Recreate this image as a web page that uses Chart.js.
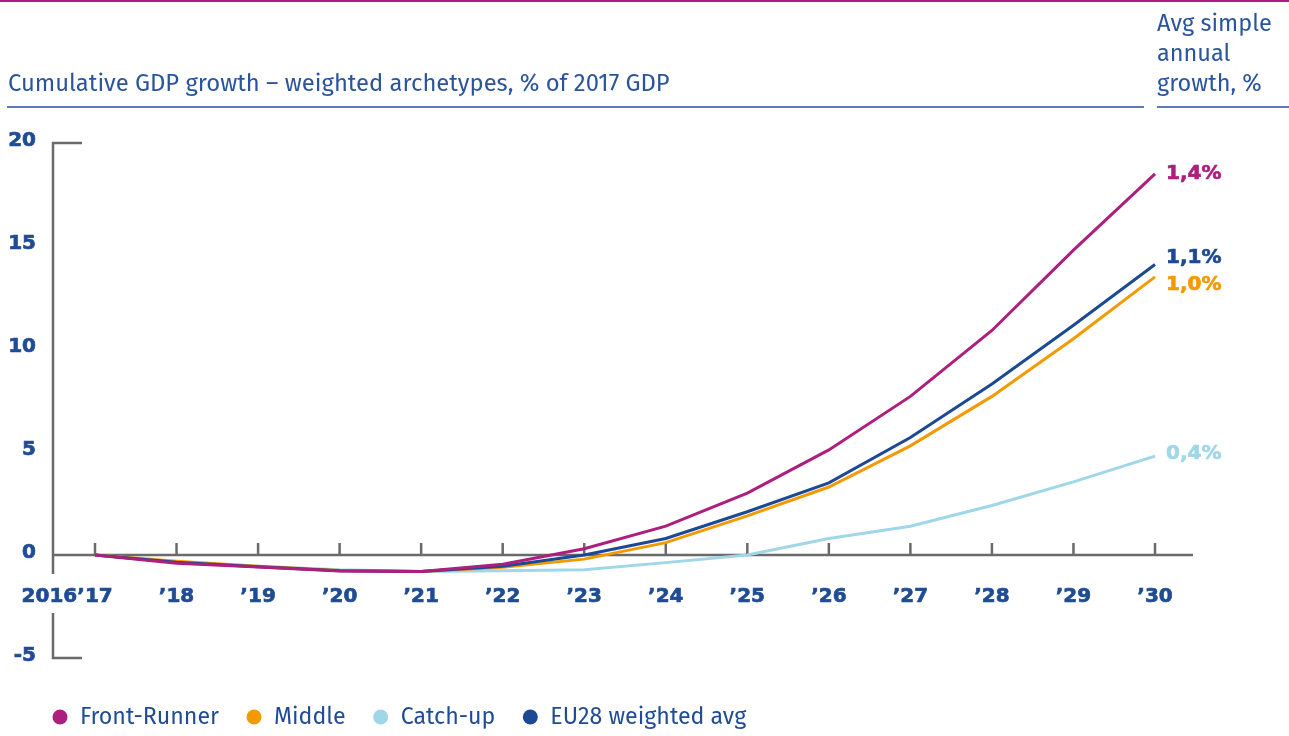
<!DOCTYPE html>
<html>
<head>
<meta charset="utf-8">
<script src="https://cdn.jsdelivr.net/npm/chart.js@4.4.1/dist/chart.umd.min.js"></script>
<style>
  html, body { margin: 0; padding: 0; background: #ffffff; }
  #wrap { width: 1289px; height: 736px; position: relative; }
</style>
</head>
<body>
<div id="wrap"><canvas id="c" width="1289" height="736"></canvas></div>
<script>
// ---- Data ----
const years = ['2017','2018','2019','2020','2021','2022','2023','2024','2025','2026','2027','2028','2029','2030'];
const tickLabels = ['’17','’18','’19','’20','’21','’22','’23','’24','’25','’26','’27','’28','’29','’30'];
const firstLabelPrefix = '2016';
const yTicks = [20, 15, 10, 5, 0, -5];

const frontRunner = [0, -0.4, -0.58, -0.78, -0.8, -0.45, 0.3, 1.4, 3.0, 5.1, 7.7, 10.9, 14.8, 18.5];
const middle      = [0, -0.3, -0.55, -0.75, -0.8, -0.6, -0.2, 0.6, 1.9, 3.3, 5.3, 7.7, 10.5, 13.5];
const catchUp     = [0, -0.35, -0.55, -0.72, -0.8, -0.76, -0.72, -0.37, 0.0, 0.8, 1.4, 2.4, 3.55, 4.8];
const eu28        = [0, -0.35, -0.57, -0.77, -0.8, -0.55, 0.0, 0.8, 2.1, 3.5, 5.7, 8.3, 11.15, 14.1];

const seriesNames = ['Front-Runner', 'Middle', 'Catch-up', 'EU28 weighted avg'];
const growthLabels = ['1,4%', '1,0%', '0,4%', '1,1%'];

const titleText = 'Cumulative GDP growth – weighted archetypes, % of 2017 GDP';
const rightHeader = ['Avg simple', 'annual', 'growth, %'];

// ---- Styles ----
const COLORS = ['#ad1f7d', '#f39a00', '#9fd7e8', '#1c4994'];
const TEXT_BLUE = '#1f4c94';
const AXIS_GREY = '#6a6a6a';
const FONT = '"Fira Sans", "Open Sans", "Noto Sans", sans-serif';
const BOLD_FONT = 'bold 20px "DejaVu Sans", sans-serif';
const endLabelShift = [0, 8, -2, -7];

function boldText(ctx, t, px, py) {
  ctx.fillText(t, px, py);
  ctx.lineWidth = 0.7;
  ctx.strokeStyle = ctx.fillStyle;
  ctx.strokeText(t, px, py);
}

const overlay = {
  id: 'overlay',
  beforeDatasetsDraw(chart) {
    const ctx = chart.ctx;
    const x = chart.scales.x, y = chart.scales.y;
    const y0 = y.getPixelForValue(0);
    const yTop = y.getPixelForValue(20);
    const yBot = y.getPixelForValue(-5);
    const axisLeft = x.getPixelForValue(0) - 42;
    const axisRight = x.getPixelForValue(years.length - 1) + 38;
    ctx.save();
    ctx.strokeStyle = AXIS_GREY;
    ctx.lineWidth = 2.5;
    ctx.lineCap = 'butt';
    ctx.beginPath();
    ctx.moveTo(axisLeft, yTop); ctx.lineTo(axisLeft, y0 + 19);
    ctx.moveTo(axisLeft, y0 + 58); ctx.lineTo(axisLeft, yBot);
    ctx.moveTo(axisLeft - 1.25, yTop); ctx.lineTo(axisLeft + 29, yTop);
    ctx.moveTo(axisLeft - 1.25, yBot); ctx.lineTo(axisLeft + 29, yBot);
    ctx.moveTo(axisLeft, y0); ctx.lineTo(axisRight, y0);
    for (let i = 0; i < years.length; i++) {
      const px = x.getPixelForValue(i);
      ctx.moveTo(px, y0); ctx.lineTo(px, y0 - 12);
    }
    ctx.stroke();
    ctx.restore();
  },
  afterDraw(chart) {
    const ctx = chart.ctx;
    const x = chart.scales.x, y = chart.scales.y;
    const W = chart.width;
    ctx.save();
    ctx.fillStyle = COLORS[0];
    ctx.fillRect(0, 0, W, 2);
    // title
    ctx.fillStyle = '#2a559c';
    ctx.font = '23.8px ' + FONT;
    ctx.textBaseline = 'middle';
    ctx.textAlign = 'left';
    ctx.fillText(titleText, 8, 84);
    ctx.font = '23.5px ' + FONT;
    rightHeader.forEach((t, i) => ctx.fillText(t, 1157, 24 + i * 30));
    ctx.fillStyle = '#5b7db7';
    ctx.fillRect(7, 106, 1137, 2);
    ctx.fillRect(1157, 106, 132, 2);
    // y tick labels
    ctx.fillStyle = TEXT_BLUE;
    ctx.font = BOLD_FONT;
    ctx.textAlign = 'right';
    yTicks.forEach(v => boldText(ctx, String(v), 36, y.getPixelForValue(v) - 2));
    // x tick labels
    ctx.textAlign = 'center';
    const ly = y.getPixelForValue(0) + 42;
    tickLabels.forEach((t, i) => boldText(ctx, t, x.getPixelForValue(i), ly));
    ctx.textAlign = 'right';
    const firstW = ctx.measureText(tickLabels[0]).width;
    boldText(ctx, firstLabelPrefix, x.getPixelForValue(0) - firstW / 2, ly);
    // end growth labels
    ctx.textAlign = 'left';
    chart.data.datasets.forEach((ds, i) => {
      const last = ds.data.length - 1;
      ctx.fillStyle = COLORS[i];
      boldText(ctx, growthLabels[i], x.getPixelForValue(last) + 11, y.getPixelForValue(ds.data[last]) + endLabelShift[i]);
    });
    // legend
    ctx.font = '23.2px ' + FONT;
    let lx = 53;
    seriesNames.forEach((n, i) => {
      ctx.fillStyle = COLORS[i];
      ctx.beginPath();
      ctx.arc(lx + 7, 717, 7.5, 0, Math.PI * 2);
      ctx.fill();
      ctx.fillStyle = TEXT_BLUE;
      ctx.fillText(n, lx + 27, 718);
      lx += 27 + ctx.measureText(n).width + 28;
    });
    ctx.restore();
  }
};

const datasets = [frontRunner, middle, catchUp, eu28].map((d, i) => ({
  label: seriesNames[i],
  data: d,
  borderColor: COLORS[i],
  backgroundColor: COLORS[i],
  borderWidth: 3,
  pointRadius: 0,
  tension: 0,
  fill: false,
  clip: false
}));
datasets[0].order = 0; datasets[3].order = 1; datasets[1].order = 2; datasets[2].order = 3;

new Chart(document.getElementById('c'), {
  type: 'line',
  data: { labels: years, datasets },
  options: {
    responsive: false,
    animation: false,
    layout: { padding: { left: 95, right: 134, top: 143, bottom: 78 } },
    plugins: { legend: { display: false }, tooltip: { enabled: false } },
    scales: {
      x: { type: 'category', display: false, offset: false },
      y: { type: 'linear', display: false, min: -5, max: 20 }
    }
  },
  plugins: [overlay]
});
</script>
</body>
</html>
